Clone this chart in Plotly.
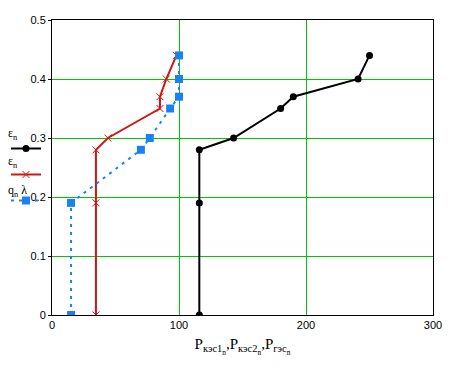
import plotly.graph_objects as go

eps = [0, 0.19, 0.28, 0.30, 0.35, 0.37, 0.40, 0.44]
p_kes1 = [116, 116, 116, 143, 180, 190, 241, 250]
p_kes2 = [34.6, 34.6, 34.6, 44, 85, 85, 90, 98]
p_ges = [15, 15, 70, 77, 93, 100, 100, 100]

labels = ["ε<sub>n</sub>", "ε<sub>n</sub>", "q<sub>n</sub> λ"]
x_ticks = [0, 100, 200, 300]
y_ticks = [0, 0.1, 0.2, 0.3, 0.4, 0.5]

BLACK = "#000000"
RED = "#d01414"
BLUE = "#1a82f0"
GREEN = "#00c800"

fig = go.Figure()
fig.add_trace(go.Scatter(x=p_kes1, y=eps, mode="lines+markers", name=" ",
                         legendgroup="a",
                         line=dict(color=BLACK, width=2),
                         marker=dict(symbol="circle", size=7, color=BLACK)))
fig.add_trace(go.Scatter(x=p_kes2, y=eps, mode="lines+markers", name=" ",
                         legendgroup="b",
                         line=dict(color=RED, width=2),
                         marker=dict(symbol="x-thin", size=7, color=RED,
                                     line=dict(color=RED, width=1))))
fig.add_trace(go.Scatter(x=p_ges, y=eps, mode="lines+markers", name=" ",
                         legendgroup="c",
                         line=dict(color=BLUE, width=2, dash="3px,5px"),
                         marker=dict(symbol="square", size=8, color=BLUE)))

W, H = 463, 371
L, R, T, B = 52, 30, 20, 56
pw = W - L - R
ph = H - T - B

fig.update_layout(
    width=W, height=H,
    margin=dict(l=L, r=R, t=T, b=B, pad=0, autoexpand=False),
    paper_bgcolor="white", plot_bgcolor="white",
    font=dict(family="Liberation Sans, Arial", size=11, color="black"),
    showlegend=True,
    legend=dict(x=(6 - L) / pw, xanchor="left", y=1 - (134 - T) / ph, yanchor="top",
                bgcolor="rgba(0,0,0,0)", tracegroupgap=7,
                itemwidth=30, font=dict(size=10)),
    xaxis=dict(range=[0, 300], tickvals=x_ticks, ticktext=[str(v) for v in x_ticks],
               showgrid=True, gridcolor=GREEN, gridwidth=1, automargin=False,
               zeroline=False, showline=True, linecolor="black", linewidth=1,
               mirror=True, ticks="", tickfont=dict(size=11),
               title=dict(text="P<sub>кэс1<sub>n</sub></sub>,P<sub>кэс2<sub>n</sub></sub>,P<sub>гэс<sub>n</sub></sub>",
                          font=dict(family="Liberation Serif, Times New Roman", size=15),
                          standoff=8)),
    yaxis=dict(range=[0, 0.5], tickvals=y_ticks, ticktext=["0", "0.1", "0.2", "0.3", "0.4", "0.5"],
               showgrid=True, gridcolor=GREEN, gridwidth=1, automargin=False,
               zeroline=False, showline=True, linecolor="black", linewidth=1,
               mirror=True, ticks="outside", ticklen=3, tickcolor="black",
               tickfont=dict(size=11)),
)

label_y = [134, 162, 191]
for txt, yy in zip(labels, label_y):
    fig.add_annotation(text=txt, xref="paper", yref="paper",
                       x=(6 - L) / pw, y=1 - (yy - T) / ph,
                       xanchor="left", yanchor="middle", showarrow=False,
                       font=dict(family="Liberation Serif, Times New Roman", size=12))

fig.write_html("out.html", config={"displayModeBar": False},
               post_script="document.body.style.margin='0';document.body.style.padding='0';")
